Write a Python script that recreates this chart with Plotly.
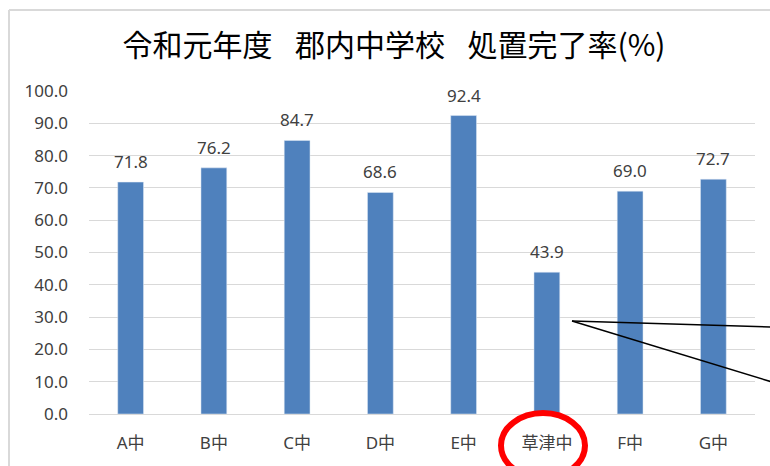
import plotly.graph_objects as go

categories = ["A中", "B中", "C中", "D中", "E中", "草津中", "F中", "G中"]
values = [71.8, 76.2, 84.7, 68.6, 92.4, 43.9, 69.0, 72.7]
y_ticks = [0, 10, 20, 30, 40, 50, 60, 70, 80, 90, 100]
title_text = "令和元年度\u2002\u2005郡内中学校\u2002\u2005処置完了率(%)"

W, H = 770, 466
PL, PR, PT, PB = 89, 755, 91, 414  # plot area in page pixels
L, R, T, B = PL, W - PR, PT, H - PB
pw = PR - PL
ph = PB - PT

def px(x):
    return (x - PL) / pw

def py(y):
    return (PB - y) / ph

fig = go.Figure()
fig.add_trace(go.Bar(
    x=categories, y=values, marker_color="#4F81BD", width=0.31,
    hoverinfo="x+y",
))

annotations = [
    dict(x=c, y=v, text=f"{v:.1f}", showarrow=False, yanchor="bottom", yshift=7,
         font=dict(family="Noto Sans", size=17, color="#404040"))
    for c, v in zip(categories, values)
]

shapes = [
    # chart frame (left and top)
    dict(type="line", xref="paper", yref="paper", x0=px(9), x1=px(9), y0=py(10), y1=py(470),
         line=dict(color="#D9D9D9", width=2)),
    dict(type="line", xref="paper", yref="paper", x0=px(9), x1=px(772), y0=py(10), y1=py(10),
         line=dict(color="#D9D9D9", width=2)),
    # red ellipse around 草津中
    dict(type="circle", xref="paper", yref="paper", x0=px(501), x1=px(585), y0=py(413), y1=py(478),
         line=dict(color="#FF0000", width=6)),
    # callout lines
    dict(type="line", xref="paper", yref="paper", x0=px(572), y0=py(321), x1=px(772), y1=py(327),
         line=dict(color="#000000", width=1.5)),
    dict(type="line", xref="paper", yref="paper", x0=px(572), y0=py(321), x1=px(772), y1=py(382),
         line=dict(color="#000000", width=1.5)),
]

fig.update_layout(
    width=W, height=H,
    margin=dict(l=L, r=R, t=T, b=B),
    paper_bgcolor="white", plot_bgcolor="white",
    showlegend=False,
    title=dict(text=title_text, x=394 / W, xanchor="center", y=1 - 45.5 / H, yanchor="middle",
               font=dict(family="Noto Sans CJK JP", size=30, color="#000000")),
    annotations=annotations,
    shapes=shapes,
)
fig.update_xaxes(
    tickfont=dict(family="Noto Sans, Noto Sans CJK JP", size=17, color="#404040"),
    ticklabelstandoff=14, showline=True, linecolor="#D9D9D9", linewidth=1,
    showgrid=False,
)
fig.update_yaxes(
    range=[0, 100], tickvals=y_ticks, tickformat=".1f",
    tickfont=dict(family="Noto Sans", size=17, color="#404040"),
    ticklabelstandoff=20, showgrid=True, gridcolor="#D9D9D9", gridwidth=1,
    zeroline=False, showline=False,
)

fig.write_html(
    "out.html",
    config={"displayModeBar": False},
    post_script="document.body.style.margin='0';document.body.style.overflow='hidden';",
)
